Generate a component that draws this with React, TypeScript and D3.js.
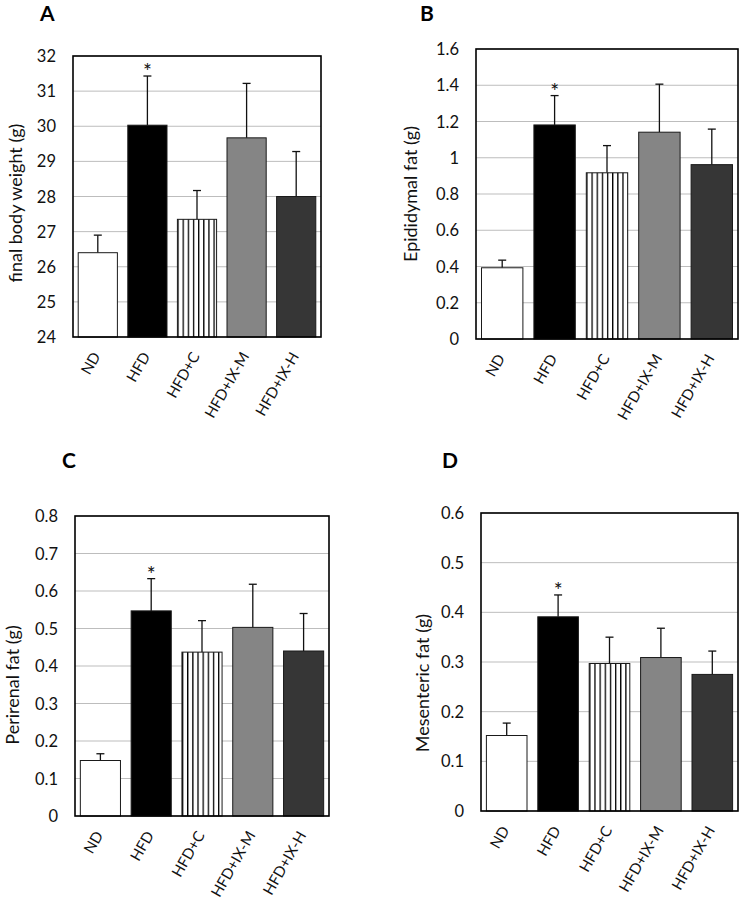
import * as d3 from "d3";

const groups = ["ND", "HFD", "HFD+C", "HFD+IX-M", "HFD+IX-H"];
const significant = [false, true, false, false, false];

const bodyWeight = [26.4, 30.03, 27.35, 29.67, 28.0];
const bodyWeightSD = [0.5, 1.4, 0.82, 1.55, 1.28];
const bodyWeightTicks = [24, 25, 26, 27, 28, 29, 30, 31, 32];

const epididymal = [0.393, 1.181, 0.917, 1.141, 0.962];
const epididymalSD = [0.042, 0.162, 0.15, 0.265, 0.196];
const epididymalTicks = [0, 0.2, 0.4, 0.6, 0.8, 1, 1.2, 1.4, 1.6];

const perirenal = [0.148, 0.547, 0.437, 0.503, 0.44];
const perirenalSD = [0.018, 0.086, 0.084, 0.115, 0.1];
const perirenalTicks = [0, 0.1, 0.2, 0.3, 0.4, 0.5, 0.6, 0.7, 0.8];

const mesenteric = [0.152, 0.391, 0.297, 0.309, 0.275];
const mesentericSD = [0.025, 0.044, 0.053, 0.059, 0.047];
const mesentericTicks = [0, 0.1, 0.2, 0.3, 0.4, 0.5, 0.6];

const fills = ["#ffffff", "#000000", "stripe", "#858585", "#363636"];
const FONT = "Lato, 'Open Sans', sans-serif";

type PanelProps = {
  id: string;
  letter: [number, number];
  box: { x: number; y: number; w: number; h: number };
  values: number[];
  sd: number[];
  ticks: number[];
  title: string;
  titlePos: [number, number];
};

const Panel = ({ id, letter, box, values, sd, ticks, title, titlePos }: PanelProps) => {
  const x = d3
    .scaleBand<string>()
    .domain(groups)
    .range([box.x, box.x + box.w])
    .paddingInner(0.21)
    .paddingOuter(0.105);
  const y = d3
    .scaleLinear()
    .domain([ticks[0], ticks[ticks.length - 1]])
    .range([box.y + box.h, box.y]);
  const bw = x.bandwidth();
  const stripeX = x(groups[2])!;
  const fmt = (v: number) => String(+v.toFixed(2));

  return (
    <g>
      <defs>
        <pattern
          id={`stripe-${id}`}
          patternUnits="userSpaceOnUse"
          x={stripeX}
          y={0}
          width={5.15}
          height={10}
        >
          <rect width={5.15} height={10} fill="#fff" />
          <rect x={0} width={1.3} height={10} fill="#000" />
        </pattern>
      </defs>
      <text x={letter[0]} y={letter[1]} fontFamily={FONT} fontWeight="bold" fontSize={21}>
        {id}
      </text>

      {ticks.map((t) => (
        <g key={t}>
          <line
            x1={box.x}
            x2={box.x + box.w}
            y1={y(t)}
            y2={y(t)}
            stroke="#bdbdbd"
            strokeWidth={1}
          />
          <text
            x={box.x - 17}
            y={y(t)}
            textAnchor="end"
            dominantBaseline="central"
            fontFamily={FONT}
            fontSize={16.5}
            fill="#111"
          >
            {fmt(t)}
          </text>
        </g>
      ))}

      {groups.map((g, i) => {
        const cx = x(g)! + bw / 2;
        const top = y(values[i]);
        const errTop = y(values[i] + sd[i]);
        return (
          <g key={g}>
            <line x1={cx} x2={cx} y1={top} y2={errTop} stroke="#111" strokeWidth={1.3} />
            <line x1={cx - 4} x2={cx + 4} y1={errTop} y2={errTop} stroke="#111" strokeWidth={1.3} />
            <rect
              x={x(g)}
              y={top}
              width={bw}
              height={y.range()[0] - top}
              fill={fills[i] === "stripe" ? `url(#stripe-${id})` : fills[i]}
              stroke="#1a1a1a"
              strokeWidth={1}
            />
            {significant[i] && (
              <text
                x={cx}
                y={errTop + 3}
                textAnchor="middle"
                fontFamily={FONT}
                fontSize={21}
                fill="#111"
              >
                *
              </text>
            )}
            <text
              transform={`translate(${cx - 2},${box.y + box.h + 16}) rotate(-60)`}
              textAnchor="end"
              dominantBaseline="central"
              fontFamily={FONT}
              fontSize={15}
              fill="#111"
            >
              {g}
            </text>
          </g>
        );
      })}

      <rect
        x={box.x}
        y={box.y}
        width={box.w}
        height={box.h}
        fill="none"
        stroke="#000"
        strokeWidth={1.6}
      />
      <text
        transform={`translate(${titlePos[0]},${titlePos[1]}) rotate(-90)`}
        textAnchor="middle"
        dominantBaseline="central"
        fontFamily={FONT}
        fontSize={18}
        fill="#111"
      >
        {title}
      </text>
    </g>
  );
};

const App = () => (
  <svg
    width={740}
    height={901}
    style={{ position: "absolute", left: 0, top: 0, background: "#fff" }}
  >
    <Panel
      id="A"
      letter={[40, 21]}
      box={{ x: 73, y: 56, w: 248, h: 281 }}
      values={bodyWeight}
      sd={bodyWeightSD}
      ticks={bodyWeightTicks}
      title="final body weight (g)"
      titlePos={[15, 203]}
    />
    <Panel
      id="B"
      letter={[420, 21]}
      box={{ x: 476, y: 49, w: 262, h: 290 }}
      values={epididymal}
      sd={epididymalSD}
      ticks={epididymalTicks}
      title="Epididymal fat (g)"
      titlePos={[410, 194]}
    />
    <Panel
      id="C"
      letter={[62, 468]}
      box={{ x: 75, y: 516, w: 254, h: 300 }}
      values={perirenal}
      sd={perirenalSD}
      ticks={perirenalTicks}
      title="Perirenal fat (g)"
      titlePos={[12, 685]}
    />
    <Panel
      id="D"
      letter={[442, 468]}
      box={{ x: 481, y: 513, w: 257, h: 298 }}
      values={mesenteric}
      sd={mesentericSD}
      ticks={mesentericTicks}
      title="Mesenteric fat (g)"
      titlePos={[422, 683]}
    />
  </svg>
);

export default App;
